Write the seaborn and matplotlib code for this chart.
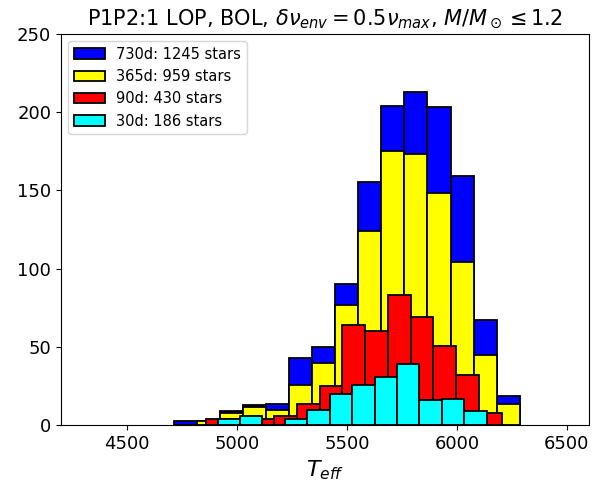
import numpy as np
import pandas as pd
import matplotlib
matplotlib.use("Agg")
import matplotlib.pyplot as plt
import seaborn as sns

# ---- data ----
labels = ["730d: 1245 stars", "365d: 959 stars", "90d: 430 stars", "30d: 186 stars"]
colors = ["blue", "yellow", "red", "cyan"]

# bin ranges (Teff) and counts per series
range_730 = (4712, 6286)
counts_730 = [3, 3, 9, 13, 14, 43, 50, 90, 155, 204, 213, 203, 159, 67, 19]
range_365 = (4712, 6286)
counts_365 = [0, 3, 8, 12, 10, 26, 40, 77, 124, 175, 173, 148, 104, 45, 14]
range_90 = (4859, 6203)
counts_90 = [4, 4, 4, 6, 14, 25, 64, 60, 83, 69, 51, 32, 8]
range_30 = (4912, 6136)
counts_30 = [4, 6, 0, 4, 10, 20, 26, 31, 39, 16, 17, 9]

series = [(range_730, counts_730), (range_365, counts_365),
          (range_90, counts_90), (range_30, counts_30)]

fig = plt.figure(figsize=(6.14, 4.86), dpi=100)
ax = fig.add_axes([0.0993, 0.1245, 0.8597, 0.8065])

for (rng, cnt), col, lab in zip(series, colors, labels):
    edges = np.linspace(rng[0], rng[1], len(cnt) + 1)
    centers = 0.5 * (edges[:-1] + edges[1:])
    df = pd.DataFrame({"Teff": centers, "n": np.asarray(cnt, dtype=float)})
    sns.histplot(data=df, x="Teff", weights="n", bins=[float(e) for e in edges],
                 color=col, alpha=1, edgecolor="black", linewidth=1.3,
                 label=lab, ax=ax)

ax.set_xlim(4200, 6600)
ax.set_ylim(0, 250)
ax.set_xticks([4500, 5000, 5500, 6000, 6500])
ax.set_yticks([0, 50, 100, 150, 200, 250])
ax.tick_params(labelsize=13)
ax.set_xlabel(r"$T_{eff}$", fontsize=16)
ax.set_ylabel("")
ax.set_title(r"P1P2:1 LOP, BOL, $\delta\nu_{env} = 0.5\nu_{max}$, $M/M_\odot \leq 1.2$",
             fontsize=15)
ax.legend(loc="upper left", fontsize=10.5, handlelength=2.1)

fig.savefig("out.png", dpi=100)
